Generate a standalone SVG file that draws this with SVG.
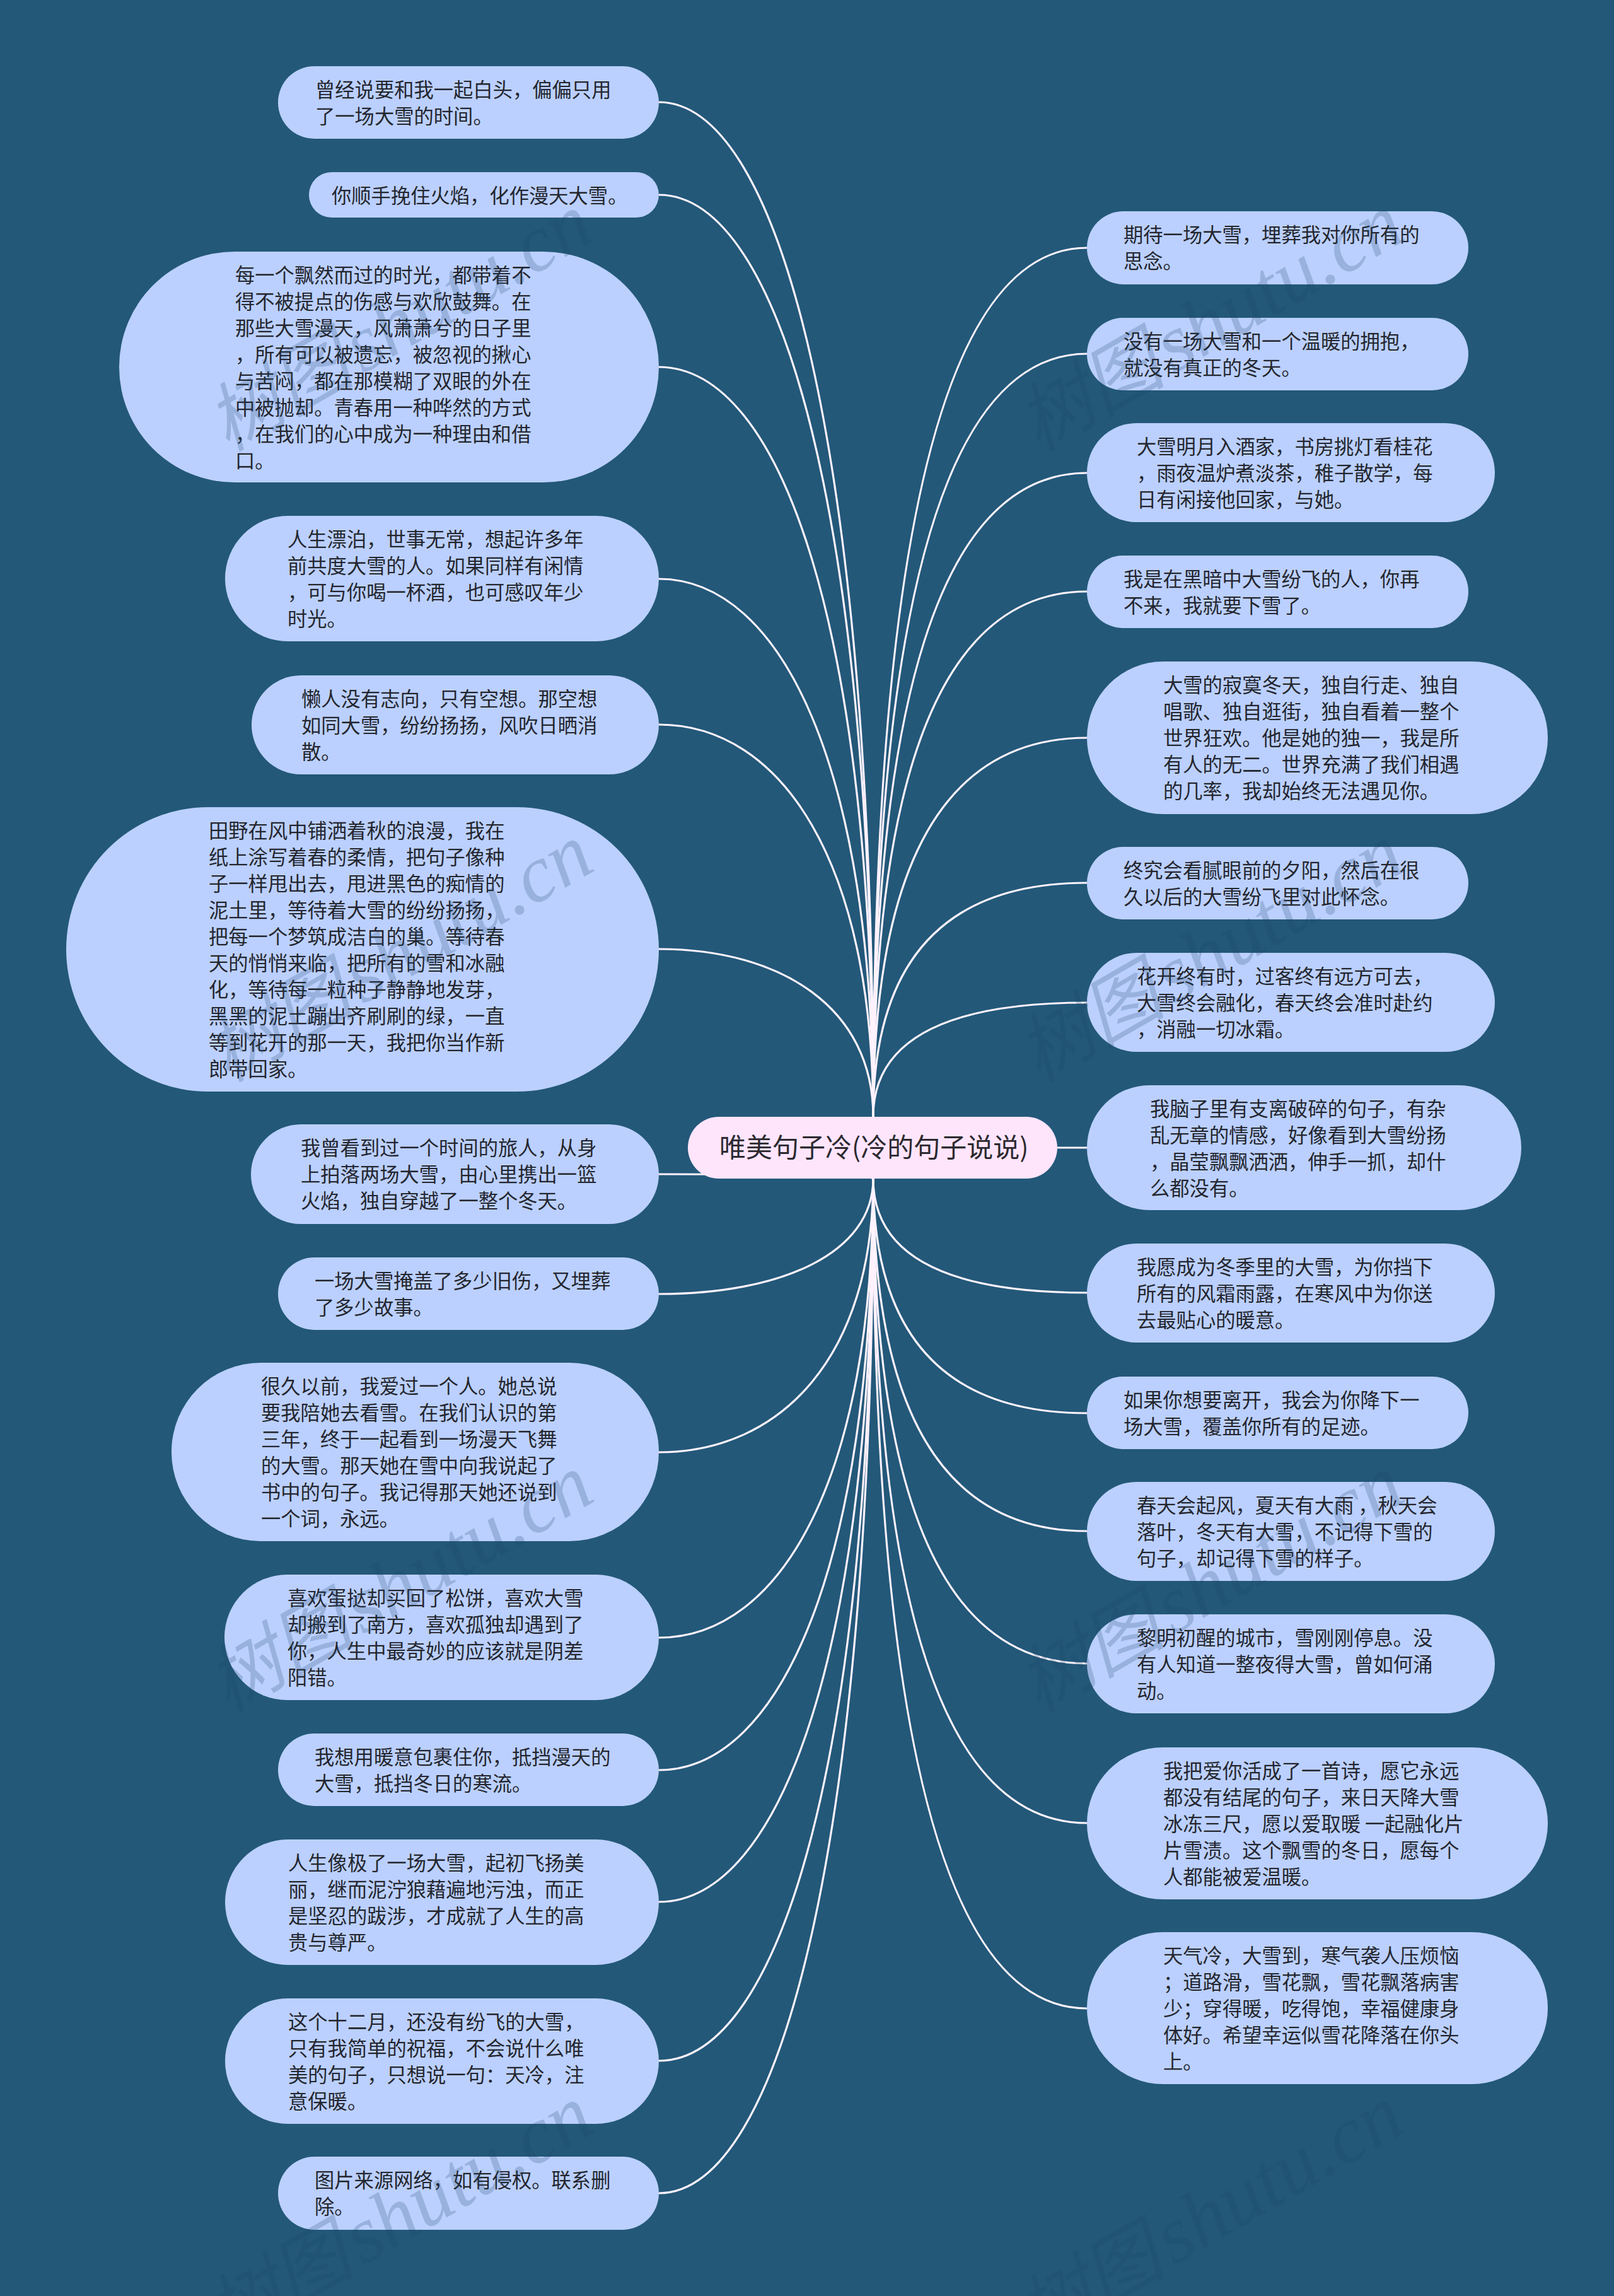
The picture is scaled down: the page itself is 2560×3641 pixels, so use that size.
<svg xmlns="http://www.w3.org/2000/svg" width="2560" height="3641" viewBox="0 0 2560 3641">
<style>
.n{fill:#bbd0ff}
.r{fill:#ffe5fc}
.t{font-family:"Noto Sans CJK SC","Noto Sans",sans-serif;font-size:31.3px;fill:#24262e}
.rt{font-family:"Noto Sans CJK SC","Noto Sans",sans-serif;font-size:42px;fill:#2c2a30}
.c{fill:none;stroke:#fdf2fd;stroke-width:3.2}
.w{font-family:"Liberation Serif","Noto Sans CJK SC",serif;font-style:italic;font-size:128px;fill:#1c4466;fill-opacity:.22;word-spacing:-20px}
.wc{font-size:118px}
</style>
<rect id="background" width="2560" height="3641" fill="#235879"/>
<g id="connectors">
<path class="c" d="M1045 162C1239 162 1385 725 1385 1771"/>
<path class="c" d="M1045 309C1239 309 1385 821 1385 1771"/>
<path class="c" d="M1045 582C1239 582 1385 998 1385 1771"/>
<path class="c" d="M1045 918C1239 918 1385 1217 1385 1771"/>
<path class="c" d="M1045 1149C1239 1149 1385 1367 1385 1771"/>
<path class="c" d="M1045 1505C1239 1505 1385 1598 1385 1771"/>
<path class="c" d="M1045 1862Q1385 1862 1385 1869"/>
<path class="c" d="M1045 2052C1239 2052 1385 1988 1385 1869"/>
<path class="c" d="M1045 2303C1239 2303 1385 2151 1385 1869"/>
<path class="c" d="M1045 2597C1239 2597 1385 2342 1385 1869"/>
<path class="c" d="M1045 2807C1239 2807 1385 2478 1385 1869"/>
<path class="c" d="M1045 3016C1239 3016 1385 2615 1385 1869"/>
<path class="c" d="M1045 3268C1239 3268 1385 2778 1385 1869"/>
<path class="c" d="M1045 3478C1239 3478 1385 2915 1385 1869"/>
<path class="c" d="M1724 393Q1385 393 1385 1771"/>
<path class="c" d="M1724 561Q1385 561 1385 1771"/>
<path class="c" d="M1724 750Q1385 750 1385 1771"/>
<path class="c" d="M1724 938Q1385 938 1385 1771"/>
<path class="c" d="M1724 1170Q1385 1170 1385 1771"/>
<path class="c" d="M1724 1400Q1385 1400 1385 1771"/>
<path class="c" d="M1724 1590Q1385 1590 1385 1771"/>
<path class="c" d="M1724 1820L1385 1820"/>
<path class="c" d="M1724 2050Q1385 2050 1385 1869"/>
<path class="c" d="M1724 2241Q1385 2241 1385 1869"/>
<path class="c" d="M1724 2428Q1385 2428 1385 1869"/>
<path class="c" d="M1724 2638Q1385 2638 1385 1869"/>
<path class="c" d="M1724 2891Q1385 2891 1385 1869"/>
<path class="c" d="M1724 3185Q1385 3185 1385 1869"/>
</g>
<g id="root"><rect class="r" x="1091" y="1771" width="586" height="98" rx="49"/><text class="rt" x="1141" y="1835">唯美句子冷(冷的句子说说)</text></g>
<g id="left-1"><rect class="n" x="441" y="105" width="604" height="115" rx="57.5"/><text class="t" x="500" y="154">曾经说要和我一起白头，偏偏只用<tspan x="500" dy="42">了一场大雪的时间。</tspan></text></g>
<g id="left-2"><rect class="n" x="490" y="273" width="555" height="72" rx="36"/><text class="t" x="526" y="322">你顺手挽住火焰，化作漫天大雪。</text></g>
<g id="left-3"><rect class="n" x="189" y="399" width="856" height="366" rx="183"/><text class="t" x="373" y="448">每一个飘然而过的时光，都带着不<tspan x="373" dy="42">得不被提点的伤感与欢欣鼓舞。在</tspan><tspan x="373" dy="42">那些大雪漫天，风萧萧兮的日子里</tspan><tspan x="373" dy="42">，所有可以被遗忘，被忽视的揪心</tspan><tspan x="373" dy="42">与苦闷，都在那模糊了双眼的外在</tspan><tspan x="373" dy="42">中被抛却。青春用一种哗然的方式</tspan><tspan x="373" dy="42">，在我们的心中成为一种理由和借</tspan><tspan x="373" dy="42">口。</tspan></text></g>
<g id="left-4"><rect class="n" x="357" y="818" width="688" height="199" rx="99.5"/><text class="t" x="456" y="867">人生漂泊，世事无常，想起许多年<tspan x="456" dy="42">前共度大雪的人。如果同样有闲情</tspan><tspan x="456" dy="42">，可与你喝一杯酒，也可感叹年少</tspan><tspan x="456" dy="42">时光。</tspan></text></g>
<g id="left-5"><rect class="n" x="399" y="1071" width="646" height="157" rx="78.5"/><text class="t" x="478" y="1120">懒人没有志向，只有空想。那空想<tspan x="478" dy="42">如同大雪，纷纷扬扬，风吹日晒消</tspan><tspan x="478" dy="42">散。</tspan></text></g>
<g id="left-6"><rect class="n" x="105" y="1280" width="940" height="451" rx="225.5"/><text class="t" x="331" y="1329">田野在风中铺洒着秋的浪漫，我在<tspan x="331" dy="42">纸上涂写着春的柔情，把句子像种</tspan><tspan x="331" dy="42">子一样甩出去，甩进黑色的痴情的</tspan><tspan x="331" dy="42">泥土里，等待着大雪的纷纷扬扬，</tspan><tspan x="331" dy="42">把每一个梦筑成洁白的巢。等待春</tspan><tspan x="331" dy="42">天的悄悄来临，把所有的雪和冰融</tspan><tspan x="331" dy="42">化，等待每一粒种子静静地发芽，</tspan><tspan x="331" dy="42">黑黑的泥土蹦出齐刷刷的绿，一直</tspan><tspan x="331" dy="42">等到花开的那一天，我把你当作新</tspan><tspan x="331" dy="42">郎带回家。</tspan></text></g>
<g id="left-7"><rect class="n" x="398" y="1783" width="647" height="158" rx="79"/><text class="t" x="477" y="1832">我曾看到过一个时间的旅人，从身<tspan x="477" dy="42">上拍落两场大雪，由心里携出一篮</tspan><tspan x="477" dy="42">火焰，独自穿越了一整个冬天。</tspan></text></g>
<g id="left-8"><rect class="n" x="441" y="1994" width="604" height="115" rx="57.5"/><text class="t" x="499" y="2043">一场大雪掩盖了多少旧伤，又埋葬<tspan x="499" dy="42">了多少故事。</tspan></text></g>
<g id="left-9"><rect class="n" x="272" y="2161" width="773" height="283" rx="141.5"/><text class="t" x="414" y="2210">很久以前，我爱过一个人。她总说<tspan x="414" dy="42">要我陪她去看雪。在我们认识的第</tspan><tspan x="414" dy="42">三年，终于一起看到一场漫天飞舞</tspan><tspan x="414" dy="42">的大雪。那天她在雪中向我说起了</tspan><tspan x="414" dy="42">书中的句子。我记得那天她还说到</tspan><tspan x="414" dy="42">一个词，永远。</tspan></text></g>
<g id="left-10"><rect class="n" x="356" y="2497" width="689" height="199" rx="99.5"/><text class="t" x="456" y="2546">喜欢蛋挞却买回了松饼，喜欢大雪<tspan x="456" dy="42">却搬到了南方，喜欢孤独却遇到了</tspan><tspan x="456" dy="42">你，人生中最奇妙的应该就是阴差</tspan><tspan x="456" dy="42">阳错。</tspan></text></g>
<g id="left-11"><rect class="n" x="441" y="2749" width="604" height="115" rx="57.5"/><text class="t" x="499" y="2798">我想用暖意包裹住你，抵挡漫天的<tspan x="499" dy="42">大雪，抵挡冬日的寒流。</tspan></text></g>
<g id="left-12"><rect class="n" x="357" y="2917" width="688" height="199" rx="99.5"/><text class="t" x="457" y="2966">人生像极了一场大雪，起初飞扬美<tspan x="457" dy="42">丽，继而泥泞狼藉遍地污浊，而正</tspan><tspan x="457" dy="42">是坚忍的跋涉，才成就了人生的高</tspan><tspan x="457" dy="42">贵与尊严。</tspan></text></g>
<g id="left-13"><rect class="n" x="357" y="3169" width="688" height="199" rx="99.5"/><text class="t" x="457" y="3218">这个十二月，还没有纷飞的大雪，<tspan x="457" dy="42">只有我简单的祝福，不会说什么唯</tspan><tspan x="457" dy="42">美的句子，只想说一句：天冷，注</tspan><tspan x="457" dy="42">意保暖。</tspan></text></g>
<g id="left-14"><rect class="n" x="441" y="3420" width="604" height="116" rx="58"/><text class="t" x="499" y="3469">图片来源网络，如有侵权。联系删<tspan x="499" dy="42">除。</tspan></text></g>
<g id="right-1"><rect class="n" x="1724" y="335" width="605" height="116" rx="58"/><text class="t" x="1782" y="384">期待一场大雪，埋葬我对你所有的<tspan x="1782" dy="42">思念。</tspan></text></g>
<g id="right-2"><rect class="n" x="1724" y="504" width="605" height="115" rx="57.5"/><text class="t" x="1782" y="553">没有一场大雪和一个温暖的拥抱，<tspan x="1782" dy="42">就没有真正的冬天。</tspan></text></g>
<g id="right-3"><rect class="n" x="1724" y="671" width="647" height="157" rx="78.5"/><text class="t" x="1803" y="720">大雪明月入酒家，书房挑灯看桂花<tspan x="1803" dy="42">，雨夜温炉煮淡茶，稚子散学，每</tspan><tspan x="1803" dy="42">日有闲接他回家，与她。</tspan></text></g>
<g id="right-4"><rect class="n" x="1724" y="881" width="605" height="115" rx="57.5"/><text class="t" x="1782" y="930">我是在黑暗中大雪纷飞的人，你再<tspan x="1782" dy="42">不来，我就要下雪了。</tspan></text></g>
<g id="right-5"><rect class="n" x="1724" y="1049" width="731" height="242" rx="121"/><text class="t" x="1845" y="1098">大雪的寂寞冬天，独自行走、独自<tspan x="1845" dy="42">唱歌、独自逛街，独自看着一整个</tspan><tspan x="1845" dy="42">世界狂欢。他是她的独一，我是所</tspan><tspan x="1845" dy="42">有人的无二。世界充满了我们相遇</tspan><tspan x="1845" dy="42">的几率，我却始终无法遇见你。</tspan></text></g>
<g id="right-6"><rect class="n" x="1724" y="1343" width="605" height="115" rx="57.5"/><text class="t" x="1782" y="1392">终究会看腻眼前的夕阳，然后在很<tspan x="1782" dy="42">久以后的大雪纷飞里对此怀念。</tspan></text></g>
<g id="right-7"><rect class="n" x="1724" y="1511" width="647" height="157" rx="78.5"/><text class="t" x="1803" y="1560">花开终有时，过客终有远方可去，<tspan x="1803" dy="42">大雪终会融化，春天终会准时赴约</tspan><tspan x="1803" dy="42">，消融一切冰霜。</tspan></text></g>
<g id="right-8"><rect class="n" x="1724" y="1721" width="689" height="198" rx="99"/><text class="t" x="1824" y="1770">我脑子里有支离破碎的句子，有杂<tspan x="1824" dy="42">乱无章的情感，好像看到大雪纷扬</tspan><tspan x="1824" dy="42">，晶莹飘飘洒洒，伸手一抓，却什</tspan><tspan x="1824" dy="42">么都没有。</tspan></text></g>
<g id="right-9"><rect class="n" x="1724" y="1972" width="647" height="157" rx="78.5"/><text class="t" x="1803" y="2021">我愿成为冬季里的大雪，为你挡下<tspan x="1803" dy="42">所有的风霜雨露，在寒风中为你送</tspan><tspan x="1803" dy="42">去最贴心的暖意。</tspan></text></g>
<g id="right-10"><rect class="n" x="1724" y="2183" width="605" height="115" rx="57.5"/><text class="t" x="1782" y="2232">如果你想要离开，我会为你降下一<tspan x="1782" dy="42">场大雪，覆盖你所有的足迹。</tspan></text></g>
<g id="right-11"><rect class="n" x="1724" y="2350" width="647" height="157" rx="78.5"/><text class="t" x="1803" y="2399">春天会起风，夏天有大雨 ，秋天会<tspan x="1803" dy="42">落叶，冬天有大雪，不记得下雪的</tspan><tspan x="1803" dy="42">句子，却记得下雪的样子。</tspan></text></g>
<g id="right-12"><rect class="n" x="1724" y="2560" width="647" height="157" rx="78.5"/><text class="t" x="1803" y="2609">黎明初醒的城市，雪刚刚停息。没<tspan x="1803" dy="42">有人知道一整夜得大雪，曾如何涌</tspan><tspan x="1803" dy="42">动。</tspan></text></g>
<g id="right-13"><rect class="n" x="1724" y="2771" width="731" height="241" rx="120.5"/><text class="t" x="1845" y="2820">我把爱你活成了一首诗，愿它永远<tspan x="1845" dy="42">都没有结尾的句子，来日天降大雪</tspan><tspan x="1845" dy="42">冰冻三尺，愿以爱取暖 一起融化片</tspan><tspan x="1845" dy="42">片雪渍。这个飘雪的冬日，愿每个</tspan><tspan x="1845" dy="42">人都能被爱温暖。</tspan></text></g>
<g id="right-14"><rect class="n" x="1724" y="3064" width="731" height="241" rx="120.5"/><text class="t" x="1845" y="3113">天气冷，大雪到，寒气袭人压烦恼<tspan x="1845" dy="42">；道路滑，雪花飘，雪花飘落病害</tspan><tspan x="1845" dy="42">少；穿得暖，吃得饱，幸福健康身</tspan><tspan x="1845" dy="42">体好。希望幸运似雪花降落在你头</tspan><tspan x="1845" dy="42">上。</tspan></text></g>
<g id="watermarks" text-anchor="end">
<text class="w" transform="translate(948 378) rotate(-30)"><tspan class="wc">树图</tspan> shutu.cn</text>
<text class="w" transform="translate(2234 378) rotate(-30)"><tspan class="wc">树图</tspan> shutu.cn</text>
<text class="w" transform="translate(948 1378) rotate(-30)"><tspan class="wc">树图</tspan> shutu.cn</text>
<text class="w" transform="translate(2234 1378) rotate(-30)"><tspan class="wc">树图</tspan> shutu.cn</text>
<text class="w" transform="translate(948 2378) rotate(-30)"><tspan class="wc">树图</tspan> shutu.cn</text>
<text class="w" transform="translate(2234 2378) rotate(-30)"><tspan class="wc">树图</tspan> shutu.cn</text>
<text class="w" transform="translate(948 3378) rotate(-30)"><tspan class="wc">树图</tspan> shutu.cn</text>
<text class="w" transform="translate(2234 3378) rotate(-30)"><tspan class="wc">树图</tspan> shutu.cn</text>
</g>
</svg>
